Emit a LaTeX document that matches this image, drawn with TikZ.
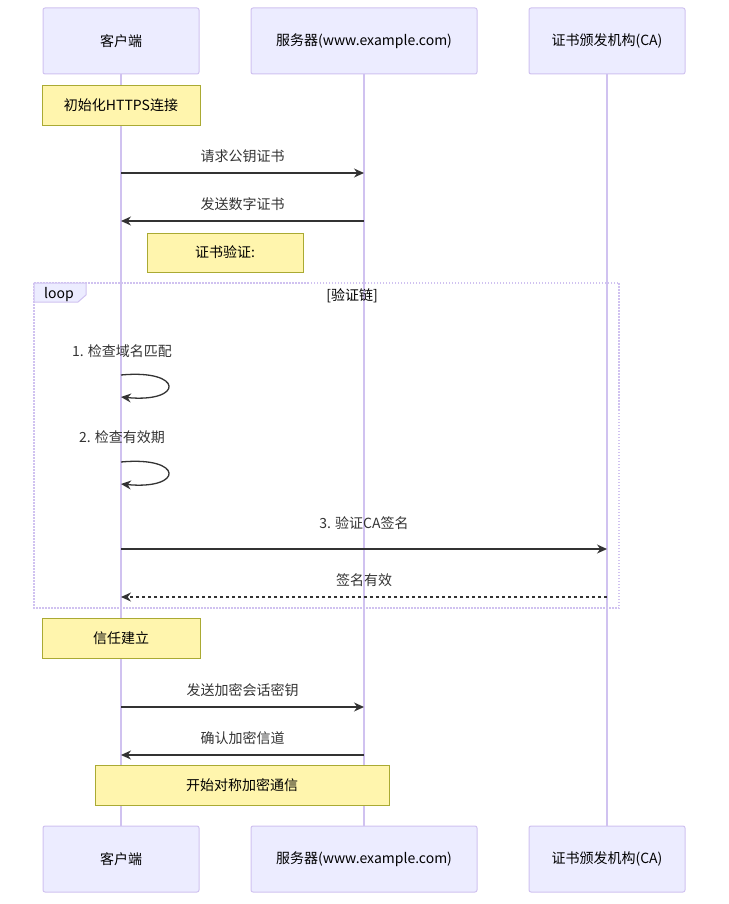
\documentclass[tikz,border=0pt]{standalone}
\usepackage{fontspec}
\setmainfont{Noto Sans CJK SC}
\usetikzlibrary{arrows.meta}
\definecolor{actfill}{HTML}{ECECFF}
\definecolor{actline}{HTML}{D0C2F0}
\definecolor{notefill}{HTML}{FFF5AD}
\definecolor{noteline}{HTML}{AAAA33}
\definecolor{ink}{HTML}{333333}
\begin{document}
\begin{tikzpicture}[x=1pt,y=-1pt,
  actor/.style={draw=actline,fill=actfill,rounded corners=2pt,minimum height=66pt,font=\fontsize{14}{16}\selectfont,text=black,line width=1pt},
  note/.style={draw=noteline,fill=notefill,minimum height=40pt,font=\fontsize{14}{16}\selectfont,line width=0.8pt},
  lbl/.style={font=\fontsize{14}{16}\selectfont,text=ink},
  msg/.style={draw=ink,line width=1.3pt,-{Stealth[length=10pt,width=9pt]}},
  life/.style={draw=actline,line width=1.5pt}]
\useasboundingbox (0,0) rectangle (728,904);
\node[actor,minimum width=156pt] (c1) at (121,41) {客户端};
\node[actor,minimum width=226pt] (s1) at (364,41) {服务器(www.example.com)};
\node[actor,minimum width=156pt] (a1) at (607,41) {证书颁发机构(CA)};
\node[actor,minimum width=156pt] (c2) at (121,859) {客户端};
\node[actor,minimum width=226pt] (s2) at (364,859) {服务器(www.example.com)};
\node[actor,minimum width=156pt] (a2) at (607,859) {证书颁发机构(CA)};
\draw[life] (c1.south) -- (c2.north);
\draw[life] (s1.south) -- (s2.north);
\draw[life] (a1.south) -- (a2.north);
\draw[actline,line width=1.5pt,dash pattern=on 1.5pt off 1.5pt] (34,283) rectangle (619,608);
\draw[actline,fill=actfill,line width=1pt] (34,283) -- (86,283) -- (86,295) -- (78,302) -- (34,302) -- cycle;
\node[lbl,text=black] (lp) at (59,295) {loop};
\node[lbl,text=black] (lt) at (352,296) {[验证链]};
\node[note,minimum width=158pt] (n1) at (121,105) {初始化HTTPS连接};
\node[note,minimum width=156pt,minimum height=39pt] (n2) at (225,252.5) {证书验证:};
\node[note,minimum width=158pt] (n3) at (121,638) {信任建立};
\node[note,minimum width=294pt] (n4) at (242,785) {开始对称加密通信};
\coordinate (c173) at (121,173); \coordinate (s173) at (364,173);
\node[lbl] (m1) at (242.5,156) {请求公钥证书};
\draw[msg] (c173) -- (s173);
\coordinate (c221) at (121,221); \coordinate (s221) at (364,221);
\node[lbl] (m2) at (242.5,204) {发送数字证书};
\draw[msg] (s221) -- (c221);
\node[lbl] (m3) at (122,351) {1. 检查域名匹配};
\coordinate (l1a) at (121,375); \coordinate (l1b) at (121,397);
\draw[msg] (l1a) .. controls (184,369) and (184,403) .. (l1b);
\node[lbl] (m4) at (122,437) {2. 检查有效期};
\coordinate (l2a) at (121,462); \coordinate (l2b) at (121,484);
\draw[msg] (l2a) .. controls (184,456) and (184,490) .. (l2b);
\coordinate (c549) at (121,549); \coordinate (a549) at (607,549);
\node[lbl] (m5) at (364,523) {3. 验证CA签名};
\draw[msg] (c549) -- (a549);
\coordinate (c597) at (121,597); \coordinate (a597) at (607,597);
\node[lbl] (m6) at (364,580) {签名有效};
\draw[msg,dash pattern=on 3pt off 3pt] (a597) -- (c597);
\coordinate (c707) at (121,707); \coordinate (s707) at (364,707);
\node[lbl] (m7) at (242.5,690) {发送加密会话密钥};
\draw[msg] (c707) -- (s707);
\coordinate (c755) at (121,755); \coordinate (s755) at (364,755);
\node[lbl] (m8) at (242.5,738) {确认加密信道};
\draw[msg] (s755) -- (c755);
\end{tikzpicture}
\end{document}
